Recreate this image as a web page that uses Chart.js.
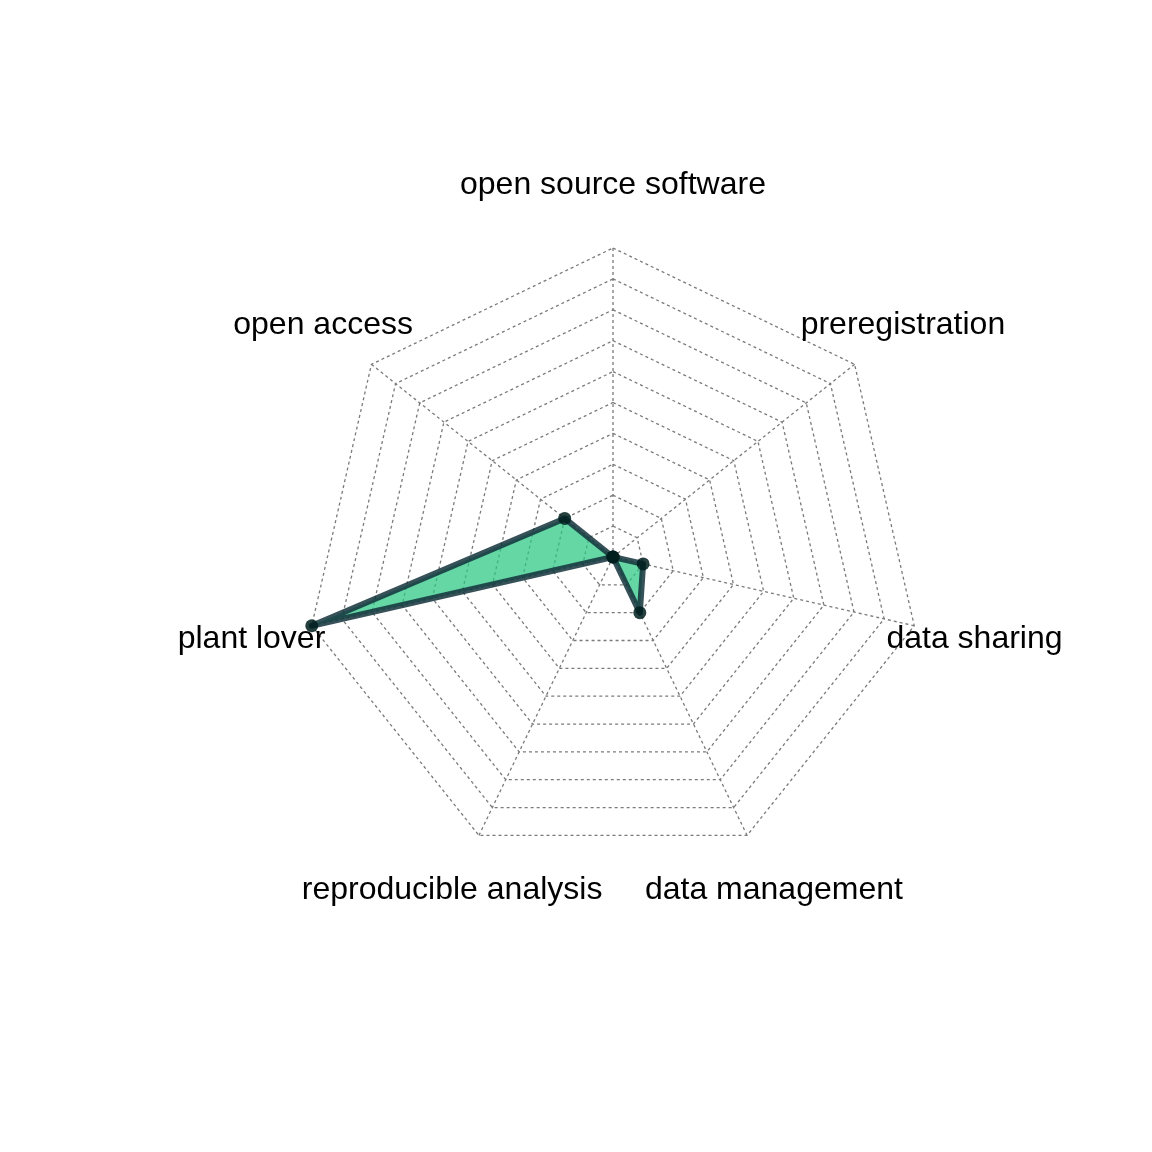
<!DOCTYPE html>
<html>
<head>
<meta charset="utf-8">
<script src="https://cdn.jsdelivr.net/npm/chart.js@4"></script>
<style>
  html, body { margin: 0; padding: 0; background: #ffffff; }
  #wrap { width: 1152px; height: 1152px; }
</style>
</head>
<body>
<div id="wrap"><canvas id="c" width="1152" height="1152"></canvas></div>
<script>
const categories = ["open source software", "preregistration", "data sharing", "data management", "reproducible analysis", "plant lover", "open access"];
const values = [0, 0, 1, 2, 0, 10, 2];
const scaleMin = 0;
const scaleMax = 10;
const scaleStep = 1;

const labelFont = "32px 'Liberation Sans', Arial, Helvetica, sans-serif";

const outerLabels = {
  id: 'outerLabels',
  beforeDatasetsDraw(chart) {
    const scale = chart.scales.r;
    const ctx = chart.ctx;
    ctx.save();
    ctx.font = labelFont;
    ctx.fillStyle = '#000000';
    ctx.textAlign = 'center';
    ctx.textBaseline = 'alphabetic';
    categories.forEach((lab, i) => {
      const p = scale.getPointPosition(i, scale.drawingArea * 1.2);
      ctx.fillText(lab, p.x, p.y + 8);
    });
    ctx.restore();
  }
};

new Chart(document.getElementById('c'), {
  type: 'radar',
  data: {
    labels: categories,
    datasets: [{
      data: values,
      backgroundColor: 'rgba(40,200,130,0.72)',
      borderColor: 'rgba(20,50,60,0.85)',
      borderWidth: 6,
      pointRadius: 6.5,
      pointBorderWidth: 0,
      pointBackgroundColor: 'rgba(0,30,30,0.85)',
      pointHoverRadius: 6.5,
      tension: 0,
      fill: true
    }]
  },
  options: {
    responsive: false,
    animation: false,
    devicePixelRatio: 1,
    layout: { padding: { left: 304, right: 230, top: 248, bottom: 286 } },
    plugins: { legend: { display: false }, tooltip: { enabled: false } },
    elements: { line: { borderJoinStyle: 'round' } },
    scales: {
      r: {
        min: scaleMin,
        max: scaleMax,
        ticks: { display: false, stepSize: scaleStep },
        pointLabels: { display: false },
        grid: { color: '#7a7a7a', lineWidth: 1.3, borderDash: [3, 3] },
        border: { dash: [3, 3] },
        angleLines: { color: '#7a7a7a', lineWidth: 1.3, borderDash: [3, 3] }
      }
    }
  },
  plugins: [outerLabels]
});
</script>
</body>
</html>
